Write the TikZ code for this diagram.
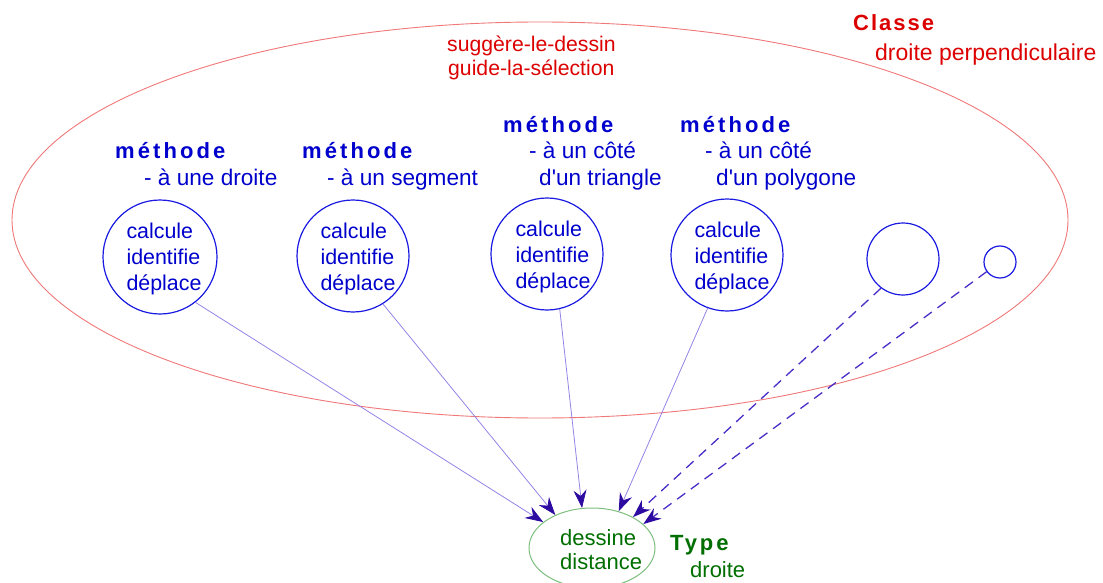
\documentclass[tikz,border=0pt]{standalone}
\usepackage{fontspec}
\setmainfont{Liberation Sans}
\newfontfamily\spbA[LetterSpace=14]{Liberation Sans Bold}
\newfontfamily\spbB[LetterSpace=9]{Liberation Sans Bold}
\newfontfamily\spbC[LetterSpace=13]{Liberation Sans Bold}
\usetikzlibrary{arrows.meta,shapes.geometric}
\definecolor{tblue}{RGB}{0,0,205}
\definecolor{cblue}{RGB}{25,25,225}
\definecolor{tred}{RGB}{220,0,0}
\definecolor{ered}{RGB}{240,120,120}
\definecolor{tgreen}{RGB}{0,110,0}
\definecolor{egreen}{RGB}{125,190,125}
\definecolor{lpurple}{RGB}{150,130,230}
\definecolor{dpurple}{RGB}{75,45,200}
\definecolor{ahead}{RGB}{45,10,160}
\begin{document}
\begin{tikzpicture}[x=1pt,y=-1pt,
  txt/.style={inner sep=0pt, anchor=base west, font=\fontsize{22.6}{25}\selectfont},
  bluetxt/.style={txt, text=tblue},
  redtxt/.style={txt, text=tred},
  greentxt/.style={txt, text=tgreen, font=\fontsize{22}{25}\selectfont},
  methodlbl/.style={bluetxt, font=\fontsize{22}{25}\spbA},
  circ/.style={circle, draw=cblue, line width=1.2pt, inner sep=0pt},
  circtxt/.style={inner sep=0pt, anchor=center, text=tblue, align=left,
    font=\fontsize{21.4}{26}\selectfont},
  headtip/.style={-{Stealth[length=18pt,width=13pt,inset=6pt,color=ahead,fill=ahead]}},
  solidarr/.style={draw=lpurple, line width=0.8pt, headtip},
  dasharr/.style={draw=dpurple, line width=1.3pt, dash pattern=on 10pt off 7pt, headtip}
]
\useasboundingbox (0,0) rectangle (1103,583);

% class ellipse
\node (cls) [ellipse, draw=ered, line width=0.9pt, minimum width=1056pt, minimum height=396pt, inner sep=0pt] at (540,220) {};
\node (clsname) [redtxt, font=\fontsize{22}{25}\spbB] at (853,31) {Classe};
\node (clssub) [redtxt, font=\fontsize{23}{25}\selectfont] at (875,61) {droite perpendiculaire};
\node (sug1) [redtxt, font=\fontsize{21.2}{25}\selectfont] at (447,52) {suggère-le-dessin};
\node (sug2) [redtxt, font=\fontsize{21.2}{25}\selectfont] at (448,76) {guide-la-sélection};

% methods
\node (m1a) [methodlbl] at (115,159) {méthode};
\node (m1b) [bluetxt] at (144,185) {- à une droite};
\node (m2a) [methodlbl] at (302,159) {méthode};
\node (m2b) [bluetxt] at (327,185) {- à un segment};
\node (m3a) [methodlbl] at (503,132) {méthode};
\node (m3b) [bluetxt] at (529,159) {- à un côté};
\node (m3c) [bluetxt] at (539,185) {d\textquotesingle un triangle};
\node (m4a) [methodlbl] at (680,132) {méthode};
\node (m4b) [bluetxt] at (705,159) {- à un côté};
\node (m4c) [bluetxt] at (716,185) {d\textquotesingle un polygone};

% circles
\node (c1) [circ, minimum size=114pt] at (160,257) {};
\node (c2) [circ, minimum size=112pt] at (353,256) {};
\node (c3) [circ, minimum size=112pt] at (547,254) {};
\node (c4) [circ, minimum size=112pt] at (727,255) {};
\node (c5) [circ, minimum size=72pt] at (903,259) {};
\node (c6) [circ, minimum size=32pt] at (1000,262) {};
\node (c1t) [circtxt] at ([shift={(4,1.5)}]c1.center) {calcule\\identifie\\déplace};
\node (c2t) [circtxt] at ([shift={(5,2.5)}]c2.center) {calcule\\identifie\\déplace};
\node (c3t) [circtxt] at ([shift={(6,2.5)}]c3.center) {calcule\\identifie\\déplace};
\node (c4t) [circtxt] at ([shift={(5,2.5)}]c4.center) {calcule\\identifie\\déplace};

% type ellipse
\node (t) [ellipse, draw=egreen, line width=1pt, minimum width=126pt, minimum height=80pt, inner sep=0pt] at (592,548) {};
\node (td1) [greentxt] at (560,545) {dessine};
\node (td2) [greentxt] at (560,569) {distance};
\node (tname) [greentxt, font=\fontsize{22}{25}\spbC] at (670,550) {Type};
\node (tsub) [greentxt] at (690,577) {droite};

% connectors
\draw[solidarr] (c1.-52) -- (t.152);
\draw[solidarr] (c2.-58) -- (t.138);
\draw[solidarr] (c3.-77) -- (t.104);
\draw[solidarr] (c4.-110) -- (t.54);
\draw[dasharr] (c5.-127) -- (t.37);
\draw[dasharr] (c6.-144) -- (t.25);
\end{tikzpicture}
\end{document}
